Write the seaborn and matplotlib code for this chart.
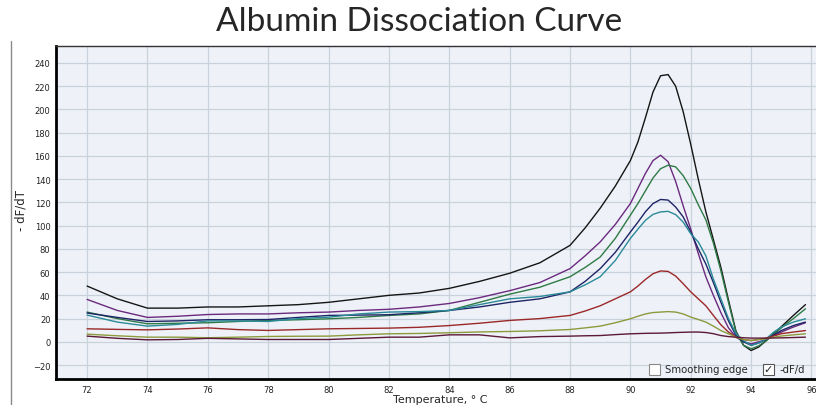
import numpy as np
import pandas as pd
import seaborn as sns
import matplotlib.pyplot as plt
from matplotlib.patches import Rectangle
from matplotlib.lines import Line2D

# temperatures (deg C)
temp = [72, 73, 74, 75, 76, 77, 78, 79, 80, 81, 82, 83, 84, 85, 86, 87, 88,
        88.5, 89, 89.5, 90, 90.25, 90.5, 90.75, 91, 91.25, 91.5, 91.75, 92,
        92.25, 92.5, 92.75, 93, 93.25, 93.5, 93.75, 94, 94.25, 94.5, 94.75, 95, 95.4, 95.8]

black = [48, 37, 29, 29, 30, 30, 31, 32, 34, 37, 40, 42, 46, 52, 59, 68, 83,
         98, 115, 134, 156, 172, 193, 215, 229, 230, 220, 198, 170,
         140, 112, 88, 64, 36, 9, -3, -7.5, -4.5, 1, 7, 13, 22.7, 32]
purple = [36.5, 27, 21, 22, 23.5, 24, 24, 25, 25.6, 27, 28, 30, 33, 38, 44, 51, 63,
          74, 86, 101, 119, 132, 145, 156, 160.6, 155, 138, 117, 97,
          76, 56, 40, 25, 12, 4, 0, -1.7, 0, 2, 5.4, 8.4, 12.7, 16.4]
green = [25.6, 20, 15.5, 16, 16.4, 17.5, 18.4, 19, 19.8, 21, 22.7, 24, 27, 34, 41, 47, 56,
         64, 73, 89, 109, 119, 130, 141, 149, 152, 150.6, 143, 132,
         118, 105, 85, 61, 34, 8, -3, -6, -3.5, 1, 6.5, 12, 20, 28.4]
navy = [24.8, 21, 17.5, 18, 19, 19, 19.2, 21, 22.7, 23, 23.3, 25, 27, 30, 34, 37, 43,
        52, 63, 77, 94.5, 103, 112, 119, 122.5, 122, 116, 107.5, 94.5,
        80, 67, 51, 34, 18, 5.4, 0, -3, -1, 2, 6, 9.7, 14, 17]
teal = [23, 17, 13.5, 15, 18, 18, 17.5, 20, 21.2, 24, 25.6, 26, 27, 32, 37, 39, 43,
        49, 56, 70, 89, 97, 104.6, 109.7, 111.8, 112.3, 109.5, 103, 93,
        86, 74, 54, 37, 20, 7, 1, -3, -1, 2.6, 8.4, 12.7, 17, 19.8]
red = [11.2, 10.7, 10.3, 11, 12, 10.5, 9.8, 10.5, 11.2, 11.5, 11.8, 12.5, 14, 16, 18.4, 20, 22.7,
       26.5, 31, 37, 43, 48, 53.7, 58.6, 61, 60.6, 56.6, 50, 43,
       37, 31, 22.7, 14.6, 8.4, 4, 2, 1.1, 2, 3.2, 5, 7, 8.4, 9.7]
olive = [6.6, 5.2, 4, 4, 3.5, 4, 4.6, 4.8, 4.9, 6, 6.9, 7.2, 7.8, 8.5, 8.9, 9.5, 10.6,
         12, 13.5, 16.4, 19.8, 22, 24, 25.2, 25.6, 26, 25.6, 24, 21.3,
         19.2, 17, 13.5, 9.7, 6.9, 4, 2, 1.1, 2, 2.6, 4, 5, 6, 6.9]
maroon = [4.9, 3, 1.7, 2, 3, 2.5, 2, 2, 2, 3, 4, 4, 6, 6, 3.4, 4.5, 4.9,
          5.2, 5.4, 6.2, 6.9, 7.1, 7.3, 7.4, 7.5, 7.7, 8, 8.2, 8.4,
          8.4, 8, 7, 5.4, 4.5, 4, 3.5, 3.2, 3.2, 3.2, 3.3, 3.4, 3.7, 4]

series = {"black": black, "purple": purple, "green": green, "navy": navy,
          "teal": teal, "red": red, "olive": olive, "maroon": maroon}
colors = {"black": "#151515", "purple": "#6b2a7e", "green": "#2f7a45",
          "navy": "#1e2466", "teal": "#2a8a98", "red": "#9b2828",
          "olive": "#8c9a3c", "maroon": "#5c1838"}

rows = []
for name, vals in series.items():
    for t, v in zip(temp, vals):
        rows.append({"temp": t, "val": v, "well": name})
df = pd.DataFrame(rows)

sns.set_style("white")
fig = plt.figure(figsize=(8.16, 4.06), dpi=100)
ax = fig.add_axes([56 / 816, 1 - 380 / 406, 1 - 56 / 816, (380 - 47) / 406])

sns.lineplot(data=df, x="temp", y="val", hue="well", palette=colors,
             linewidth=1.0, legend=False, ax=ax)

ax.set_facecolor("#eef2f8")
ax.set_xlim(70.97, 96.15)
ax.set_ylim(-32, 254.6)
ax.set_xticks(np.arange(72, 97, 2))
ax.set_yticks(np.arange(-20, 241, 20))
ax.grid(True, color="#c9d1dc", linewidth=0.9)
ax.set_axisbelow(True)
for s in ["left", "bottom"]:
    ax.spines[s].set_linewidth(2)
    ax.spines[s].set_color("black")
ax.spines["top"].set_linewidth(1)
ax.spines["top"].set_color("#333333")
ax.spines["right"].set_visible(False)
ax.tick_params(axis="both", labelsize=6, length=2.5, width=0.8, pad=1.5, colors="#222222")
ax.set_yticks(np.arange(-30, 255, 5), minor=True)
ax.tick_params(axis="y", which="minor", length=2, width=0.6)
ax.set_xlabel("")
ax.set_ylabel("- dF/dT", fontsize=8.5)
ax.yaxis.set_label_coords(-0.037, 0.51)
fig.text(440 / 816, 1 - 400 / 406, "Temperature, ° C", fontsize=8,
         ha="center", va="center")

# outer panel frame
fig.add_artist(Line2D([11 / 816, 11 / 816], [0, 1 - 42 / 406], color="#8a8a8a", lw=1))

# checkboxes
fig.add_artist(Rectangle((649 / 816, 1 - 376 / 406), 11 / 816, 11 / 406,
                         facecolor="white", edgecolor="#8a8a8a", lw=0.8))
fig.text(665 / 816, 1 - 370 / 406, "Smoothing edge", fontsize=7.3, va="center")
fig.add_artist(Rectangle((763 / 816, 1 - 376 / 406), 11 / 816, 11 / 406,
                         facecolor="white", edgecolor="#555555", lw=0.8))
fig.text(768.5 / 816, 1 - 370.5 / 406, "✓", fontsize=8, va="center", ha="center")
fig.text(779 / 816, 1 - 370 / 406, "-dF/d", fontsize=7.3, va="center")

fig.text(419 / 816, 1 - 22 / 406, "Albumin Dissociation Curve", fontsize=24,
         ha="center", va="center", family="Lato")

fig.savefig("out.png", dpi=100)
